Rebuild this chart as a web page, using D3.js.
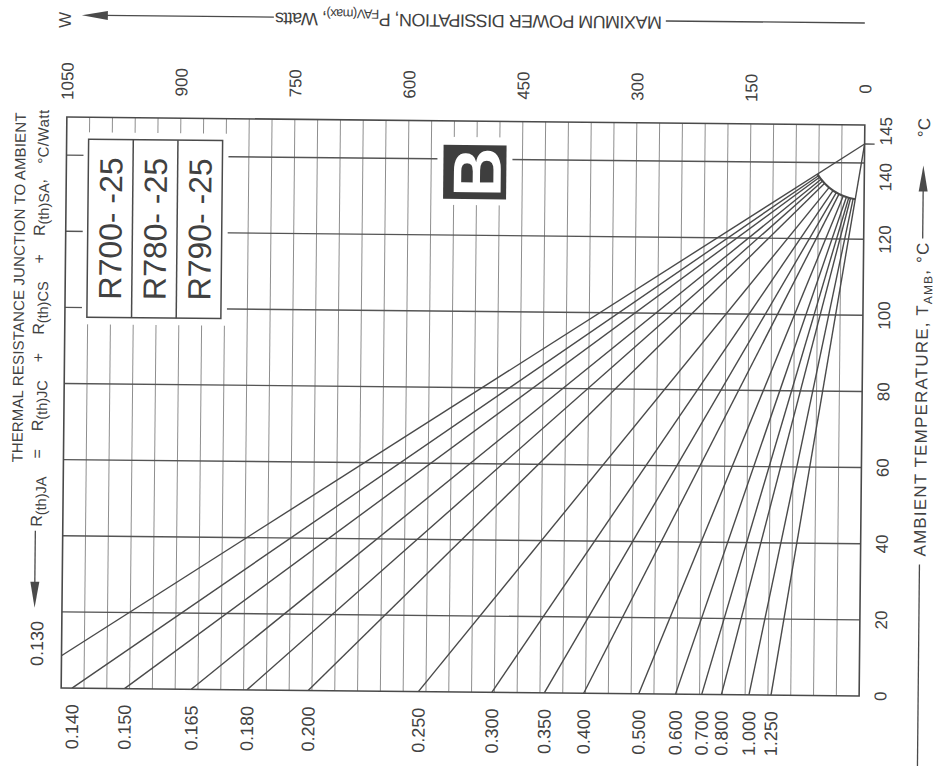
<!DOCTYPE html>
<html>
<head>
<meta charset="utf-8">
<script src="https://cdn.jsdelivr.net/npm/d3@7"></script>
<style>
  html, body { margin: 0; padding: 0; background: #fff; }
  svg { display: block; }
  text { font-family: "Liberation Sans", Arial, Helvetica, sans-serif; fill: #414141; }
</style>
</head>
<body>
<svg id="chart" width="939" height="766"></svg>
<script>
// Maximum power dissipation nomograph: P = (Tj - Tamb) / Rth(JA)
const tjMax = 145;                        // junction temperature where every line meets, °C
const resistances = [0.130, 0.140, 0.150, 0.165, 0.180, 0.200, 0.250, 0.300,
                     0.350, 0.400, 0.500, 0.600, 0.700, 0.800, 1.000, 1.250];   // °C/W
const powerTicks = [1050, 900, 750, 600, 450, 300, 150, 0];                    // W
const tempTicks = [0, 20, 40, 60, 80, 100, 120, 140, 145];                     // °C
const tempGrid = [20, 40, 60, 80, 100, 120, 140];
const partNumbers = ["R700- -25", "R780- -25", "R790- -25"];
const badgeLetter = "B";

const W = 939, H = 766;
const svg = d3.select("#chart");
svg.append("rect").attr("width", W).attr("height", H).attr("fill", "#fff");

// whole sheet sits slightly tilted
const g = svg.append("g").attr("transform", "rotate(0.57,463,406)");

const plot = { left: 64, right: 862, top: 121, bottom: 692 };
const x = d3.scaleLinear().domain([1050, 0]).range([plot.left, plot.right]);
const y = d3.scaleLinear().domain([0, 150]).range([plot.bottom, plot.top]);
const powerGrid = d3.range(30, 1050, 30);

const ink = "#4a4a4a";

// vertical (power) grid
g.append("g").selectAll("line").data(powerGrid).join("line")
  .attr("x1", d => x(d)).attr("x2", d => x(d))
  .attr("y1", plot.top).attr("y2", plot.bottom)
  .attr("stroke", "#8e8e8e").attr("stroke-width", 1);

// horizontal (temperature) grid
g.append("g").selectAll("line").data(tempGrid).join("line")
  .attr("x1", plot.left).attr("x2", plot.right)
  .attr("y1", d => y(d)).attr("y2", d => y(d))
  .attr("stroke", "#555").attr("stroke-width", 1.4);

// blank areas behind the part-number box and the badge
const blanks = [
  { x: 81, y: 136, w: 145, h: 192 },
  { x: 435, y: 137, w: 75, h: 68 }
];
g.append("g").selectAll("rect").data(blanks).join("rect")
  .attr("x", d => d.x).attr("y", d => d.y).attr("width", d => d.w).attr("height", d => d.h)
  .attr("fill", "#fff");

// frame
g.append("rect")
  .attr("x", plot.left).attr("y", plot.top)
  .attr("width", plot.right - plot.left).attr("height", plot.bottom - plot.top)
  .attr("fill", "none").attr("stroke", ink).attr("stroke-width", 1.6);

// clip for the resistance lines
g.append("defs").append("clipPath").attr("id", "plotClip")
  .append("rect").attr("x", plot.left).attr("y", plot.top)
  .attr("width", plot.right - plot.left).attr("height", plot.bottom - plot.top);

// resistance lines: from (P = Tj/R, T = 0) towards (P = 0, T = Tj)
const apex = [x(0), y(tjMax)];
const arcR = 56;
const lineData = resistances.map((r, i) => {
  const bx = x(tjMax / r), by = y(0);
  const dx = bx - apex[0], dy = by - apex[1];
  const len = Math.hypot(dx, dy);
  const outer = i === 0 || i === resistances.length - 1;
  const k = outer ? 0 : arcR / len;
  return { r, bx, by, ex: apex[0] + dx * k, ey: apex[1] + dy * k, ang: Math.atan2(dy, dx) };
});
const lines = g.append("g").attr("clip-path", "url(#plotClip)");
lines.selectAll("line").data(lineData).join("line")
  .attr("x1", d => d.bx).attr("y1", d => d.by)
  .attr("x2", d => d.ex).attr("y2", d => d.ey)
  .attr("stroke", ink).attr("stroke-width", 1.4);

// rounded inner edge of the fan
const fan = d3.path();
const a0 = lineData[0].ang, a1 = lineData[lineData.length - 1].ang;
fan.moveTo(apex[0] + arcR * Math.cos(a0), apex[1] + arcR * Math.sin(a0));
fan.arc(apex[0], apex[1], arcR, a0, a1, true);
lines.append("path").attr("d", fan.toString())
  .attr("fill", "none").attr("stroke", ink).attr("stroke-width", 2);

// Tj tick outside the frame
g.append("line")
  .attr("x1", plot.right).attr("x2", plot.right + 10)
  .attr("y1", y(tjMax)).attr("y2", y(tjMax))
  .attr("stroke", ink).attr("stroke-width", 1.4);

// power tick labels (top)
g.append("g").selectAll("text").data(powerTicks).join("text")
  .attr("transform", d => `translate(${x(d)},85) rotate(-90)`)
  .attr("text-anchor", "middle").attr("dy", "0.36em")
  .style("font-size", "17px").text(d => d);

// temperature tick labels (right)
const nudge = d => d === tjMax ? -13 : (d === 140 ? 14 : 0);
g.append("g").selectAll("text").data(tempTicks).join("text")
  .attr("transform", d => `translate(883,${y(d) + nudge(d)}) rotate(-90)`)
  .attr("text-anchor", "middle").attr("dy", "0.36em")
  .style("font-size", "17px").text(d => d);

// resistance labels (bottom, or left of the frame when the line leaves through the side)
const fmt = d3.format(".3f");
g.append("g").selectAll("text").data(lineData).join("text")
  .attr("transform", d => {
    const p0 = tjMax / d.r;
    if (p0 > 1050) return `translate(${plot.left - 25},${y(tjMax - 1050 * d.r) - 12}) rotate(-90)`;
    return `translate(${d.bx},708) rotate(-90)`;
  })
  .attr("text-anchor", d => (tjMax / d.r > 1050 ? "middle" : "end"))
  .attr("dy", "0.36em")
  .style("font-size", "18px").text(d => fmt(d.r));

// part-number box
const box = { x: 86, y: 143, w: 134, h: 178 };
const colW = box.w / partNumbers.length;
g.append("rect").attr("x", box.x).attr("y", box.y).attr("width", box.w).attr("height", box.h)
  .attr("fill", "#fff").attr("stroke", ink).attr("stroke-width", 1.5);
g.append("g").selectAll("line").data(partNumbers.slice(1)).join("line")
  .attr("x1", (d, i) => box.x + colW * (i + 1)).attr("x2", (d, i) => box.x + colW * (i + 1))
  .attr("y1", box.y).attr("y2", box.y + box.h)
  .attr("stroke", ink).attr("stroke-width", 1.5);
g.append("g").selectAll("text").data(partNumbers).join("text")
  .attr("transform", (d, i) => `translate(${box.x + colW * (i + 0.5)},${box.y + box.h / 2}) rotate(-90)`)
  .attr("text-anchor", "middle").attr("dy", "0.36em")
  .style("font-size", "32px").text(d => d);

// badge
g.append("rect").attr("x", 441).attr("y", 145).attr("width", 63).attr("height", 54).attr("fill", "#3e3e3e");
g.append("text")
  .attr("transform", "translate(474,172) rotate(-90)")
  .attr("text-anchor", "middle").attr("dy", "0.36em")
  .style("font-size", "68px").style("font-weight", "bold").style("fill", "#fff")
  .text(badgeLetter);

// ---- axis titles ----
const arrowHead = (tx, ty, dir) => {
  const L = 26, hw = 4.5;
  if (dir === "left") return `M${tx},${ty}L${tx + L},${ty - hw}L${tx + L},${ty + hw}Z`;
  if (dir === "up") return `M${tx},${ty}L${tx - hw},${ty + L}L${tx + hw},${ty + L}Z`;
  return `M${tx},${ty}L${tx - hw},${ty - L}L${tx + hw},${ty - L}Z`;
};

// top: power title, printed upside down
const topT = g.append("text")
  .attr("transform", "translate(658,14.5) rotate(180)")
  .attr("text-anchor", "start")
  .attr("textLength", 387).attr("lengthAdjust", "spacing")
  .style("font-size", "18px");
topT.append("tspan").text("MAXIMUM POWER DISSIPATION, P");
topT.append("tspan").attr("dy", 4).style("font-size", "13px").text("FAV(max)");
topT.append("tspan").attr("dy", -4).text(", Watts");
g.append("line").attr("x1", 662).attr("x2", 861).attr("y1", 19).attr("y2", 19).attr("stroke", ink).attr("stroke-width", 1.3);
g.append("line").attr("x1", 100).attr("x2", 270).attr("y1", 19).attr("y2", 19).attr("stroke", ink).attr("stroke-width", 1.3);
g.append("path").attr("d", arrowHead(78, 19, "left")).attr("fill", ink);
g.append("text").attr("transform", "translate(61,24) rotate(-90)")
  .attr("text-anchor", "middle").attr("dy", "0.36em").style("font-size", "17px").text("W");

// right: ambient temperature title
const rT = g.append("text")
  .attr("transform", "translate(927,552) rotate(-90)")
  .attr("text-anchor", "start")
  .attr("textLength", 314).attr("lengthAdjust", "spacing")
  .style("font-size", "17px");
rT.append("tspan").text("AMBIENT TEMPERATURE, T");
rT.append("tspan").attr("dy", 4).style("font-size", "12px").text("AMB");
rT.append("tspan").attr("dy", -4).text(", °C");
g.append("line").attr("x1", 921).attr("x2", 921).attr("y1", 560).attr("y2", 775).attr("stroke", ink).attr("stroke-width", 1.3);
g.append("line").attr("x1", 921).attr("x2", 921).attr("y1", 180).attr("y2", 234).attr("stroke", ink).attr("stroke-width", 1.3);
g.append("path").attr("d", arrowHead(921, 161, "up")).attr("fill", ink);
g.append("text").attr("transform", "translate(921,123) rotate(-90)")
  .attr("text-anchor", "middle").attr("dy", "0.36em").style("font-size", "17px").text("°C");

// left: thermal resistance title
g.append("text")
  .attr("transform", "translate(23,467) rotate(-90)")
  .attr("text-anchor", "start")
  .attr("textLength", 350).attr("lengthAdjust", "spacing")
  .style("font-size", "15px")
  .text("THERMAL RESISTANCE JUNCTION TO AMBIENT");

// Rth(JA) = Rth(JC) + Rth(CS) + Rth(SA), written with wide gaps round the operators
const eq = g.append("text")
  .attr("transform", "translate(43,531) rotate(-90)")
  .attr("text-anchor", "start")
  .style("font-size", "16px");
const gap = 18;
[["JA", "="], ["JC", "+"], ["CS", "+"], ["SA", ","]].forEach(([sub, op], i) => {
  eq.append("tspan").attr("dx", i === 0 ? 0 : gap).text("R");
  eq.append("tspan").attr("dy", 4).style("font-size", "14.5px").text("(th)" + sub);
  eq.append("tspan").attr("dy", -4).attr("dx", op === "," ? 0 : gap).text(op);
});
g.append("text")
  .attr("transform", "translate(46,168) rotate(-90)")
  .attr("text-anchor", "start")
  .attr("textLength", 54).attr("lengthAdjust", "spacing")
  .style("font-size", "15px").text("°C/Watt");
g.append("line").attr("x1", 36.6).attr("x2", 36.6).attr("y1", 535).attr("y2", 592).attr("stroke", ink).attr("stroke-width", 1.3);
g.append("path").attr("d", arrowHead(36.6, 612, "down")).attr("fill", ink);
</script>
</body>
</html>
